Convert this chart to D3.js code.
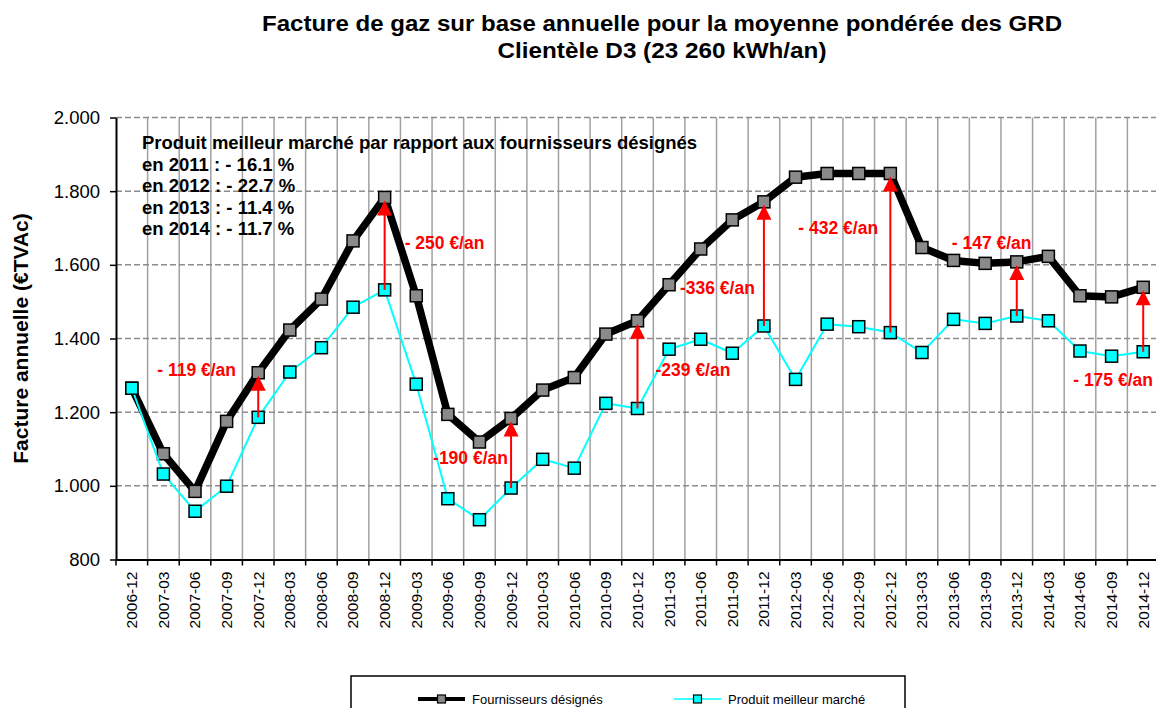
<!DOCTYPE html>
<html>
<head>
<meta charset="utf-8">
<script src="https://cdn.jsdelivr.net/npm/d3@7"></script>
<style>
body { margin: 0; background: #fff; }
svg { display: block; font-family: Arial, 'Liberation Sans', sans-serif; }
</style>
</head>
<body>
<div class="chart"></div>
<script>
//Values (EUR TVAc per year)
const periods = ['2006-12',
    '2007-03', '2007-06', '2007-09', '2007-12',
    '2008-03', '2008-06', '2008-09', '2008-12',
    '2009-03', '2009-06', '2009-09', '2009-12',
    '2010-03', '2010-06', '2010-09', '2010-12',
    '2011-03', '2011-06', '2011-09', '2011-12',
    '2012-03', '2012-06', '2012-09', '2012-12',
    '2013-03', '2013-06', '2013-09', '2013-12',
    '2014-03', '2014-06', '2014-09', '2014-12'];

const fournisseurs = [1265,
    1087, 985, 1175, 1307,
    1423, 1507, 1665, 1783,
    1516, 1194, 1119, 1183,
    1260, 1294, 1412, 1448,
    1546, 1643, 1722, 1771,
    1838, 1848, 1848, 1848,
    1647, 1612, 1604, 1608,
    1623, 1516, 1513, 1539];

const meilleurMarche = [1265,
    1032, 931, 999, 1186,
    1309, 1375, 1485, 1532,
    1276, 965, 908, 994,
    1072, 1048, 1224, 1210,
    1371, 1398, 1360, 1434,
    1289, 1439, 1432, 1416,
    1362, 1452, 1441, 1461,
    1448, 1366, 1352, 1364];

const yTicks = [800, 1000, 1200, 1400, 1600, 1800, 2000];

//Gaps shown with red arrows
const gapPeriods = ['2007-12', '2008-12', '2009-12', '2010-12', '2011-12', '2012-12', '2013-12', '2014-12'];
const gapLabels = ['- 119 €/an', '- 250 €/an', '-190 €/an', '-239 €/an', '-336 €/an', '- 432 €/an', '- 147 €/an', '- 175 €/an'];

const summaryLines = [
    'Produit meilleur marché par rapport aux fournisseurs désignés',
    'en 2011 : - 16.1 %',
    'en 2012 : - 22.7 %',
    'en 2013 : - 11.4 %',
    'en 2014 : - 11.7 %'
];

const seriesNames = ['Fournisseurs désignés', 'Produit meilleur marché'];
const titleLines = ['Facture de gaz sur base annuelle pour la moyenne pondérée des GRD', 'Clientèle D3 (23 260 kWh/an)'];
const yTitle = 'Facture annuelle (€TVAc)';

//Layout
const WIDTH = 1156;
const HEIGHT = 708;
const LEFT = 116;
const RIGHT = 1159;
const TOP = 117.5;
const BOTTOM = 559.5;

//label offsets (px) from each arrow top
const labelShift = [[-101, -3], [20, 45], [-78, 39], [18, 49], [-84, 86], [-92, 54], [-65, -19], [-70, 93]];

let svg = d3.select('.chart')
.append('svg')
.attr('width', WIDTH)
.attr('height', HEIGHT);

svg.append('rect')
.attr('width', WIDTH)
.attr('height', HEIGHT)
.style('fill', '#fff');

//Scales
const xScale = d3.scaleBand().domain(periods).range([LEFT, RIGHT]);
const yScale = d3.scaleLinear().domain([800, 2000]).range([BOTTOM, TOP]);
const bw = xScale.bandwidth();
const cx = p => xScale(p) + bw / 2;

//Title
svg.append('g')
.selectAll()
.data(titleLines)
.enter()
.append('text')
.attr('x', 662)
.attr('y', (d, i) => 31 + i * 27)
.attr('text-anchor', 'middle')
.attr('textLength', (d, i) => i == 0 ? 800 : 329)
.attr('lengthAdjust', 'spacingAndGlyphs')
.style('font-size', '22px')
.style('font-weight', 'bold')
.text(d => d);

//Gridlines
let bounds = periods.slice(1).map(p => xScale(p)).concat([RIGHT]);
svg.append('g')
.selectAll()
.data(bounds)
.enter()
.append('line')
.attr('x1', d => d)
.attr('x2', d => d)
.attr('y1', TOP)
.attr('y2', BOTTOM)
.style('stroke', '#a0a0a0')
.style('stroke-width', 1.5);

svg.append('g')
.selectAll()
.data(yTicks.slice(1))
.enter()
.append('line')
.attr('x1', LEFT)
.attr('x2', RIGHT)
.attr('y1', d => yScale(d))
.attr('y2', d => yScale(d))
.style('stroke', '#8c8c8c')
.style('stroke-width', 1.5)
.style('stroke-dasharray', '6,3');

//Y axis
let yAxis = svg.append('g')
.attr('transform', `translate(${LEFT},0)`)
.call(d3.axisLeft(yScale)
    .tickValues(yTicks)
    .tickSize(6)
    .tickSizeOuter(0)
    .tickPadding(10)
    .tickFormat(d => d3.format(',')(d).replace(',', '.')));

yAxis.select('.domain').style('stroke', '#000').style('stroke-width', 2);
yAxis.selectAll('.tick line').style('stroke', '#000').style('stroke-width', 1.5);
yAxis.selectAll('text')
.style('font-size', '18.5px')
.style('font-family', 'Arial, Liberation Sans, sans-serif')
.style('fill', '#000');

svg.append('text')
.attr('transform', `translate(28,${(TOP + BOTTOM) / 2}) rotate(-90)`)
.attr('text-anchor', 'middle')
.style('font-size', '21px')
.style('font-weight', 'bold')
.text(yTitle);

//X axis, labels at band centres and ticks on the band edges
let xAxis = svg.append('g')
.attr('transform', `translate(0,${BOTTOM})`)
.call(d3.axisBottom(xScale).tickSize(0).tickSizeOuter(0));

xAxis.select('.domain').style('stroke', '#000').style('stroke-width', 2);
xAxis.selectAll('text')
.attr('transform', 'rotate(-90)')
.attr('x', -12)
.attr('y', 0)
.attr('dy', '0.35em')
.style('text-anchor', 'end')
.style('font-size', '15.5px')
.style('font-family', 'Arial, Liberation Sans, sans-serif')
.style('fill', '#000');

xAxis.append('g')
.selectAll()
.data(periods.map(p => xScale(p)).concat([RIGHT]))
.enter()
.append('line')
.attr('x1', d => d)
.attr('x2', d => d)
.attr('y1', 0)
.attr('y2', 6)
.style('stroke', '#000')
.style('stroke-width', 1.5);

//Series
let line = d3.line()
.x((d, i) => cx(periods[i]))
.y(d => yScale(d));

function drawSeries(values, colour, width, fill) {
    svg.append('path')
    .datum(values)
    .attr('d', line)
    .style('fill', 'none')
    .style('stroke', colour)
    .style('stroke-width', width)
    .style('stroke-linejoin', 'round');

    svg.append('g')
    .selectAll()
    .data(values)
    .enter()
    .append('rect')
    .attr('x', (d, i) => cx(periods[i]) - 6)
    .attr('y', d => yScale(d) - 6)
    .attr('width', 12)
    .attr('height', 12)
    .style('fill', fill)
    .style('stroke', '#000')
    .style('stroke-width', 1.5);
}

drawSeries(fournisseurs, '#000', 7.5, '#8a8a8a');
drawSeries(meilleurMarche, '#00ffff', 2, '#00ffff');

//Red arrows from the cheapest product up to the designated suppliers
gapPeriods.forEach(function (p, i) {
    let idx = periods.indexOf(p);
    let x = cx(p);
    let top = yScale(fournisseurs[idx]) + 3;
    let bottom = yScale(meilleurMarche[idx]);

    svg.append('line')
    .attr('x1', x)
    .attr('x2', x)
    .attr('y1', bottom)
    .attr('y2', top + 12)
    .style('stroke', '#ff0000')
    .style('stroke-width', 2);

    svg.append('path')
    .attr('d', `M${x},${top} L${x - 7.5},${top + 15} L${x + 7.5},${top + 15} Z`)
    .style('fill', '#ff0000');

    svg.append('text')
    .attr('x', x + labelShift[i][0])
    .attr('y', top - 3 + labelShift[i][1])
    .attr('dy', '0.35em')
    .style('font-size', '17.5px')
    .style('font-weight', 'bold')
    .style('fill', '#ff0000')
    .text(gapLabels[i]);
});

//Summary text block
svg.append('g')
.selectAll()
.data(summaryLines)
.enter()
.append('text')
.attr('x', 142)
.attr('y', (d, i) => 149 + i * 21.5)
.style('font-size', '18.5px')
.style('font-weight', 'bold')
.text(d => d);

//Legend
let legend = svg.append('g');

legend.append('rect')
.attr('x', 351)
.attr('y', 676)
.attr('width', 554)
.attr('height', 50)
.style('fill', '#fff')
.style('stroke', '#000')
.style('stroke-width', 1.5);

const legendX = [418, 674];
const legendColours = ['#000', '#00ffff'];
const legendFills = ['#8a8a8a', '#00ffff'];

legend.selectAll('.lg')
.data(seriesNames)
.enter()
.append('line')
.attr('x1', (d, i) => legendX[i])
.attr('x2', (d, i) => legendX[i] + 47)
.attr('y1', 699)
.attr('y2', 699)
.style('stroke', (d, i) => legendColours[i])
.style('stroke-width', (d, i) => i == 0 ? 4 : 1.5);

legend.selectAll('.lm')
.data(seriesNames)
.enter()
.append('rect')
.attr('x', (d, i) => legendX[i] + 19.5)
.attr('y', 695)
.attr('width', 8)
.attr('height', 8)
.style('fill', (d, i) => legendFills[i])
.style('stroke', '#000')
.style('stroke-width', 1.2);

legend.selectAll('.lt')
.data(seriesNames)
.enter()
.append('text')
.attr('x', (d, i) => legendX[i] + 54)
.attr('y', 703.5)
.style('font-size', '13px')
.text(d => d);
</script>
</body>
</html>
